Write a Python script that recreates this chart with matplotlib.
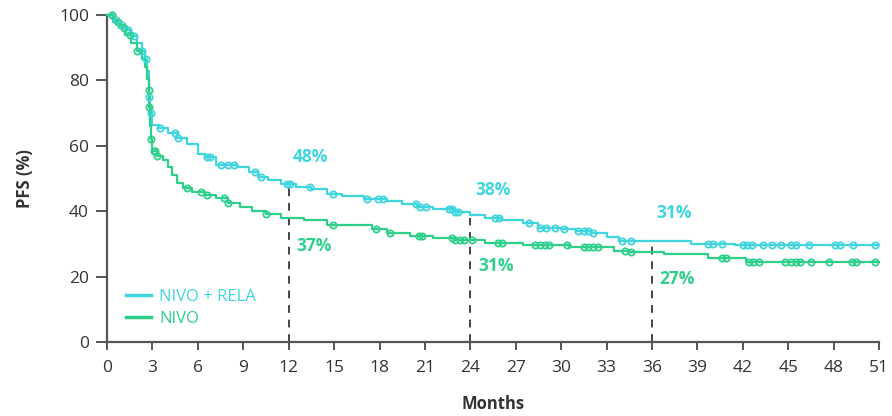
import numpy as np
import matplotlib
matplotlib.use("Agg")
import matplotlib.pyplot as plt

plt.rcParams['font.family'] = ['Open Sans', 'DejaVu Sans']

# Kaplan-Meier step points (months, PFS %)
rela_t = [0, 0.4, 0.8, 1.2, 1.6, 2.0, 2.3, 2.5, 2.65, 2.75, 2.8, 2.85, 2.9, 2.95, 3.0,
          3.4, 4.0, 4.6, 5.3, 6.0, 6.5, 7.2, 8.6, 9.4, 10.0, 10.6, 11.5, 12.5, 13.5,
          14.5, 15.5, 17.0, 18.5, 19.5, 20.5, 21.5, 23.0, 24.0, 25.0, 26.0, 27.5, 28.5,
          30.0, 31.0, 32.0, 33.0, 33.8, 38.6, 41.5]
rela_v = [100, 98.5, 97, 95.5, 93.5, 91.5, 89, 86.5, 83, 79, 75, 72, 70, 68, 66.5,
          65.3, 64, 62.4, 60.5, 57.5, 56.5, 54.2, 53.5, 52, 50.5, 49.5, 48.4, 47.5, 46.8,
          45.3, 44.6, 43.8, 43.1, 42.3, 41.3, 40.7, 39.8, 38.8, 38.0, 37.3, 36.4, 35.0,
          34.6, 34.0, 33.3, 32.2, 30.9, 30.0, 29.5]
nivo_t = [0, 0.4, 0.8, 1.2, 1.6, 2.0, 2.3, 2.5, 2.65, 2.75, 2.8, 2.85, 2.9, 3.0, 3.3,
          3.7, 4.0, 4.3, 4.6, 5.0, 5.6, 6.5, 7.2, 8.0, 8.8, 9.6, 10.5, 11.5, 13.0, 14.5,
          17.5, 18.5, 20.0, 21.5, 23.0, 25.0, 27.5, 30.5, 33.5, 34.5, 36.8, 39.7, 42.2]
nivo_v = [100, 98, 96, 94, 91.5, 89, 86.5, 84, 80.5, 77, 72, 66, 62, 58.5, 57,
          55.5, 53.5, 51, 48.6, 47, 45.9, 45, 44, 42.5, 41.2, 40, 39, 37.8, 37.2, 35.8,
          34.6, 33.2, 32.3, 31.8, 31.2, 30.3, 29.8, 29.1, 27.8, 27.5, 26.8, 25.8, 24.6]

# censored observations (months)
rela_cens = [0.3, 0.6, 1.0, 1.4, 1.8, 2.3, 2.6, 2.8, 2.9, 3.5, 4.5, 4.7, 6.6, 6.8, 7.5,
             8.0, 8.4, 9.8, 10.2, 11.9, 12.1, 13.4, 14.9, 17.2, 17.9, 18.2, 20.4, 20.7,
             21.1, 22.6, 22.8, 23.0, 23.2, 25.6, 25.9, 27.9, 28.6, 29.0, 29.6, 30.2, 31.1,
             31.5, 31.8, 32.1, 34.0, 34.6, 39.7, 40.0, 40.6, 42.0, 42.3, 42.6, 43.3, 43.9,
             44.5, 45.2, 45.5, 46.4, 48.1, 48.4, 49.3, 50.7]
nivo_cens = [0.3, 0.7, 1.1, 1.5, 2.0, 2.75, 2.8, 2.9, 3.1, 3.2, 3.3, 5.3, 6.2, 6.6, 7.7,
             8.0, 10.5, 14.9, 17.8, 18.7, 20.6, 20.8, 22.8, 23.0, 23.3, 23.6, 24.1, 25.8,
             26.1, 28.3, 28.6, 28.9, 29.2, 30.4, 31.5, 31.8, 32.1, 32.4, 34.2, 34.6, 40.6,
             40.9, 42.4, 42.7, 43.1, 44.8, 45.2, 45.5, 45.8, 46.5, 47.7, 49.2, 49.5, 50.7]

landmarks = [12, 24, 36]
rela_pct = [48, 38, 31]
nivo_pct = [37, 31, 27]

x_max = 51
x_ticks = list(range(0, 52, 3))
y_ticks = [0, 20, 40, 60, 80, 100]

c_rela = "#3fd5df"
c_nivo = "#2ecf8b"
c_axis = "#555555"


def step_value(ts, vs, t):
    idx = np.searchsorted(np.asarray(ts), t, side="right") - 1
    return np.asarray(vs)[idx]


fig = plt.figure(figsize=(8.92, 4.16), dpi=100)
ax = fig.add_axes([0.12, 0.178, 0.8655, 0.786])

for ts, vs, cens, col, lab in [(rela_t, rela_v, rela_cens, c_rela, "NIVO + RELA"),
                               (nivo_t, nivo_v, nivo_cens, c_nivo, "NIVO")]:
    tt = list(ts) + [x_max]
    vv = list(vs) + [vs[-1]]
    ax.step(tt, vv, where="post", color=col, lw=1.6, label=lab, zorder=3,
            clip_on=False)
    cy = step_value(ts, vs, np.asarray(cens))
    ax.plot(cens, cy, ls="none", marker="o", ms=4.5, mfc="none", mec=col,
            mew=1.3, zorder=4, clip_on=False)

# landmark dashed lines
for lm, top in zip(landmarks, rela_pct):
    ax.plot([lm, lm], [0, top], ls=(0, (4, 3.5)), color="#444444", lw=1.4, zorder=2)

# landmark percentages
for lm, p in zip(landmarks, rela_pct):
    ax.text(lm + 0.3, p + 8.5, f"{p}%", color=c_rela, fontsize=12.5, fontweight="bold",
            ha="left", va="center")
for lm, p in zip(landmarks, nivo_pct):
    ax.text(lm + 0.5, p - 7.8, f"{p}%", color=c_nivo, fontsize=12.5, fontweight="bold",
            ha="left", va="center")

ax.set_xlim(0, x_max)
ax.set_ylim(0, 100)
ax.set_xticks(x_ticks)
ax.set_yticks(y_ticks)
ax.tick_params(axis="both", colors=c_axis, labelsize=12.5, width=1.4, labelcolor="#333333")
ax.tick_params(axis="x", length=6, pad=7)
ax.tick_params(axis="y", length=8, pad=5)

for s in ["top", "right"]:
    ax.spines[s].set_visible(False)
for s in ["left", "bottom"]:
    ax.spines[s].set_color(c_axis)
    ax.spines[s].set_linewidth(1.6)

ax.set_xlabel("Months", fontsize=12, fontweight="bold", color="#333333", labelpad=14)
ax.set_ylabel("PFS (%)", fontsize=12, fontweight="bold", color="#333333", labelpad=18)

leg = ax.legend(loc="lower left", bbox_to_anchor=(0.005, 0.0), frameon=False,
                fontsize=12, handlelength=1.5, handletextpad=0.5, labelspacing=0.35)
for txt, line in zip(leg.get_texts(), leg.get_lines()):
    txt.set_color(line.get_color())
    line.set_linewidth(2.5)

fig.savefig("out.png", dpi=100, facecolor="white")
